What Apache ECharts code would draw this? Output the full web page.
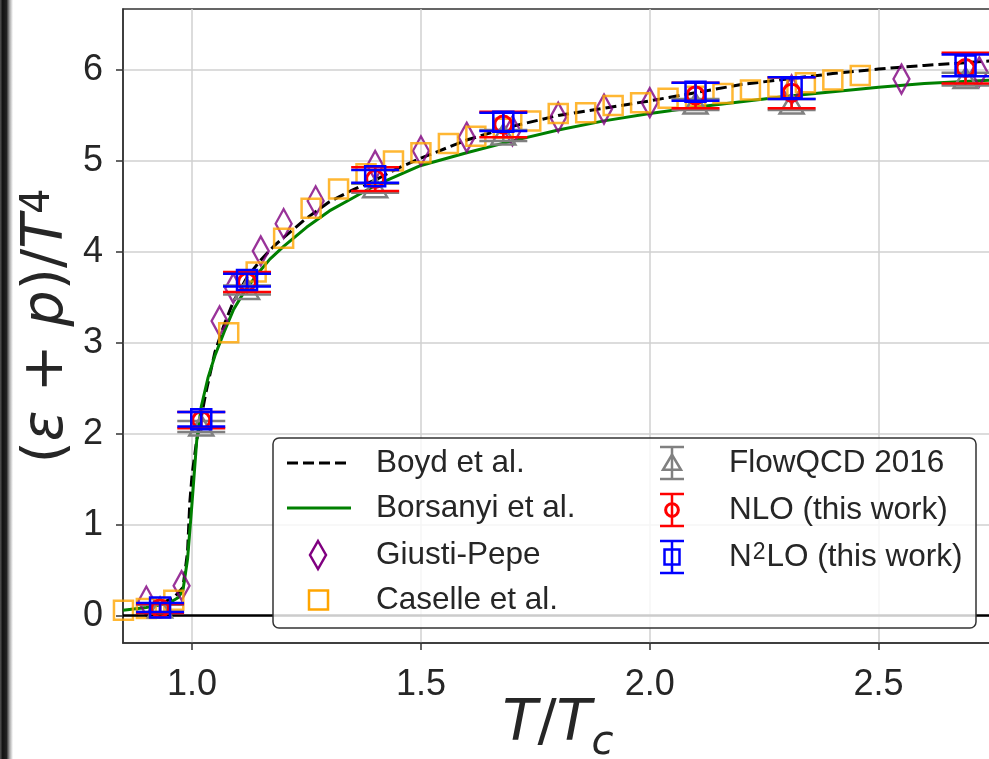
<!DOCTYPE html>
<html><head><meta charset="utf-8">
<script src="https://cdn.jsdelivr.net/npm/echarts@6/dist/echarts.min.js"></script>
<style>html,body{margin:0;padding:0;background:#fff}#c{width:989px;height:759px}</style>
</head><body><div id="c"></div>
<script>
// ---- data ----
const xTicks = [1.0, 1.5, 2.0, 2.5];
const yTicks = [0, 1, 2, 3, 4, 5, 6];

const boydT = [0.90,0.93,0.96,0.98,0.99,0.995,1.00,1.01,1.02,1.03,1.05,1.07,1.09,1.12,1.15,1.18,1.21,1.25,1.30,1.35,1.40,1.45,1.50,1.60,1.70,1.80,1.90,2.00,2.10,2.20,2.30,2.40,2.50,2.60,2.75];
const boydY = [0.10,0.13,0.20,0.31,0.70,1.25,1.55,1.93,2.18,2.45,2.90,3.20,3.45,3.72,3.91,4.07,4.20,4.37,4.55,4.68,4.79,4.92,5.03,5.23,5.38,5.50,5.58,5.66,5.75,5.84,5.90,5.96,6.01,6.05,6.10];

const borsT = [0.849,0.90,0.95,0.97,0.98,0.99,1.00,1.01,1.02,1.035,1.05,1.07,1.09,1.11,1.14,1.17,1.20,1.25,1.30,1.35,1.40,1.50,1.60,1.70,1.80,1.90,2.00,2.10,2.20,2.30,2.40,2.50,2.60,2.75];
const borsY = [0.06,0.09,0.14,0.20,0.28,0.62,1.25,1.92,2.30,2.62,2.86,3.12,3.36,3.53,3.74,3.92,4.06,4.27,4.45,4.59,4.73,4.95,5.09,5.22,5.34,5.44,5.52,5.59,5.65,5.71,5.76,5.81,5.85,5.89];

const giustiT = [0.90,0.977,1.06,1.09,1.15,1.20,1.27,1.40,1.50,1.60,1.70,1.80,1.90,2.00,2.31,2.55,2.72];
const giustiY = [0.16,0.33,3.24,3.60,4.01,4.31,4.56,4.95,5.11,5.26,5.33,5.48,5.57,5.64,5.78,5.90,5.98];

const caselleT = [0.85,0.90,0.96,1.08,1.14,1.20,1.26,1.32,1.38,1.44,1.50,1.56,1.62,1.68,1.74,1.80,1.86,1.92,1.98,2.04,2.10,2.16,2.22,2.28,2.34,2.40,2.46];
const caselleY = [0.06,0.08,0.17,3.11,3.78,4.15,4.48,4.69,4.86,5.00,5.09,5.19,5.27,5.36,5.44,5.52,5.53,5.61,5.64,5.69,5.71,5.74,5.78,5.81,5.86,5.89,5.94];

const latT = [0.93,1.02,1.12,1.40,1.68,2.10,2.31,2.69];
const flowY = [0.08,2.08,3.58,4.70,5.28,5.62,5.62,5.90];
const flowE = [0.04,0.06,0.05,0.05,0.06,0.06,0.06,0.07];
const nloY  = [0.08,2.15,3.67,4.80,5.40,5.72,5.75,6.02];
const nloE  = [0.05,0.09,0.11,0.13,0.14,0.14,0.17,0.17];
const n2loY = [0.09,2.16,3.69,4.83,5.43,5.76,5.80,6.05];
const n2loE = [0.05,0.08,0.07,0.07,0.10,0.10,0.12,0.12];

// ---- helpers ----
const zip2 = (a, b) => a.map((v, i) => [v, b[i]]);
const zip3 = (a, b, c) => a.map((v, i) => [v, b[i], c[i]]);
const FONT = '"Liberation Sans", Arial, sans-serif';
const MFONT = '"DejaVu Sans", sans-serif';
const TXT = '#262626';

function marker(shape, cx, cy, color, s) {
  const st = {stroke: color, lineWidth: 2.5, fill: 'none'};
  if (shape === 'tri') return {type: 'polygon', shape: {points: [[cx, cy - 11*s], [cx - 12*s, cy + 9*s], [cx + 12*s, cy + 9*s]]}, style: st};
  if (shape === 'circle') return {type: 'circle', shape: {cx: cx, cy: cy, r: 8.5*s}, style: {stroke: color, lineWidth: 3, fill: 'none'}};
  return {type: 'rect', shape: {x: cx - 10*s, y: cy - 10*s, width: 20*s, height: 20*s}, style: st};
}

function errRender(color, shape) {
  return function (params, api) {
    const x = api.value(0), y = api.value(1), e = api.value(2);
    const c = api.coord([x, y]);
    const t = api.coord([x, y + e]);
    const b = api.coord([x, y - e]);
    const hw = 24;
    const st = {stroke: color, lineWidth: 2.5};
    return {type: 'group', children: [
      {type: 'line', shape: {x1: c[0], y1: t[1], x2: c[0], y2: b[1]}, style: st},
      {type: 'line', shape: {x1: c[0] - hw, y1: t[1], x2: c[0] + hw, y2: t[1]}, style: st},
      {type: 'line', shape: {x1: c[0] - hw, y1: b[1], x2: c[0] + hw, y2: b[1]}, style: st},
      marker(shape, c[0], c[1], color, 1)
    ]};
  };
}

function errSeries(name, ys, es, color, shape) {
  return {
    name: name, type: 'custom', renderItem: errRender(color, shape),
    data: zip3(latT, ys, es), encode: {x: 0, y: 1}, clip: true, z: 5
  };
}

// ---- legend (drawn as graphic) ----
const LX = 273, LY = 438;
function legText(text, x, y, rich) {
  const st = {text: text, x: x, y: y, fill: TXT, fontSize: 31.5, fontFamily: FONT, align: 'left', verticalAlign: 'middle'};
  if (rich) st.rich = rich;
  return {type: 'text', style: st, z: 101};
}
function legErr(cx, cy, color, shape) {
  const st = {stroke: color, lineWidth: 2.5};
  return {type: 'group', z: 101, children: [
    {type: 'line', shape: {x1: cx, y1: cy - 16, x2: cx, y2: cy + 16}, style: st, z: 101},
    {type: 'line', shape: {x1: cx - 12, y1: cy - 16, x2: cx + 12, y2: cy - 16}, style: st, z: 101},
    {type: 'line', shape: {x1: cx - 12, y1: cy + 16, x2: cx + 12, y2: cy + 16}, style: st, z: 101},
    Object.assign(marker(shape, cx, cy, color, 0.75), {z: 101})
  ]};
}
const r1 = 463, r2 = 508, r3 = 555, r4 = 600;
const q1 = 463, q2 = 510, q3 = 557;
const legend = [
  {type: 'rect', shape: {x: LX, y: LY, width: 703, height: 190, r: 6}, style: {fill: 'rgba(255,255,255,0.8)', stroke: '#333', lineWidth: 1.5}, z: 100},
  {type: 'line', shape: {x1: 287, y1: r1, x2: 351, y2: r1}, style: {stroke: '#000', lineWidth: 3, lineDash: [11, 5]}, z: 101},
  legText('Boyd et al.', 376, r1),
  {type: 'line', shape: {x1: 287, y1: r2, x2: 351, y2: r2}, style: {stroke: '#008000', lineWidth: 3}, z: 101},
  legText('Borsanyi et al.', 376, r2),
  {type: 'polygon', shape: {points: [[318, r3 - 14], [326, r3], [318, r3 + 14], [310, r3]]}, style: {stroke: '#800080', lineWidth: 2.5, fill: 'none'}, z: 101},
  legText('Giusti-Pepe', 376, r3),
  {type: 'rect', shape: {x: 309, y: r4 - 9.5, width: 19, height: 19}, style: {stroke: '#FFA500', lineWidth: 2.5, fill: 'none'}, z: 101},
  legText('Caselle et al.', 376, r4),
  legErr(672, q1, '#808080', 'tri'),
  legText('FlowQCD 2016', 729, q1),
  legErr(672, q2, '#FF0000', 'circle'),
  legText('NLO (this work)', 729, q2),
  legErr(672, q3, '#0000FF', 'rect'),
  legText('N{sup|2}LO (this work)', 729, q3, {sup: {fontSize: 23, fontFamily: FONT, fill: TXT, verticalAlign: 'top', padding: [0, 1, 6, 1]}}),
  // dark strip at the left border of the picture
  {type: 'rect', shape: {x: 0, y: 0, width: 13, height: 759},
   style: {fill: new echarts.graphic.LinearGradient(0, 0, 1, 0, [
     {offset: 0, color: '#555'}, {offset: 0.2, color: '#111'}, {offset: 0.5, color: '#222'},
     {offset: 0.75, color: '#aaa'}, {offset: 1, color: '#fff'}])}, z: 200}
];

const chart = echarts.init(document.getElementById('c'), null, {renderer: 'canvas'});
chart.setOption({
  animation: false,
  backgroundColor: '#fff',
  grid: {left: 123, right: -4, top: 9, bottom: 116, outerBoundsMode: 'none', containLabel: false,
         show: true, borderColor: '#333', borderWidth: 1.5, backgroundColor: 'transparent'},
  xAxis: {
    type: 'value', min: 0.849, max: 2.75,
    name: '{it|T}/{it|T}{sub|c}', nameLocation: 'middle', nameGap: 43, nameMoveOverlap: false,
    nameTextStyle: {fontSize: 57, fontFamily: MFONT, color: TXT,
      rich: {it: {fontSize: 57, fontStyle: 'italic', fontFamily: MFONT, color: TXT},
             sub: {fontSize: 40, fontStyle: 'italic', fontFamily: MFONT, color: TXT, padding: [38, 0, 0, 0]}}},
    axisLine: {show: true, onZero: false, lineStyle: {color: '#333', width: 1.5}},
    axisTick: {show: true, length: 7, inside: false, customValues: xTicks, lineStyle: {color: '#333', width: 1.5}},
    axisLabel: {customValues: xTicks, fontSize: 36, fontFamily: FONT, color: TXT, margin: 24,
      formatter: v => v.toFixed(1)},
    splitLine: {show: true, lineStyle: {color: '#d0d0d0', width: 1.5}}
  },
  yAxis: {
    type: 'value', min: -0.3, max: 6.67,
    name: '({it|ε} + {it|p})/{it|T}{sup|4}', nameLocation: 'middle', nameGap: 47, nameRotate: 90, nameMoveOverlap: false,
    nameTextStyle: {fontSize: 57, fontFamily: MFONT, color: TXT,
      rich: {it: {fontSize: 57, fontStyle: 'italic', fontFamily: MFONT, color: TXT},
             sup: {fontSize: 40, fontFamily: MFONT, color: TXT, verticalAlign: 'top'}}},
    axisLine: {show: true, onZero: false, lineStyle: {color: '#333', width: 1.5}},
    axisTick: {show: true, length: 7, inside: false, customValues: yTicks, lineStyle: {color: '#333', width: 1.5}},
    axisLabel: {customValues: yTicks, fontSize: 36, fontFamily: FONT, color: TXT, margin: 20},
    splitLine: {show: true, lineStyle: {color: '#d0d0d0', width: 1.5}}
  },
  graphic: legend,
  series: [
    {name: 'Boyd et al.', type: 'line', data: zip2(boydT, boydY), symbol: 'none', z: 3,
     lineStyle: {color: '#000', width: 3, type: [11, 5]}},
    {name: 'Borsanyi et al.', type: 'line', data: zip2(borsT, borsY), symbol: 'none', z: 3,
     lineStyle: {color: '#008000', width: 3},
     markLine: {silent: true, symbol: 'none', label: {show: false}, data: [{yAxis: 0}],
       lineStyle: {color: '#000', width: 2.5, type: 'solid'}}},
    {name: 'Giusti-Pepe', type: 'scatter', data: zip2(giustiT, giustiY), symbol: 'diamond', symbolSize: [16, 29], z: 4,
     itemStyle: {color: 'rgba(0,0,0,0)', borderColor: '#800080', borderWidth: 2.5}},
    {name: 'Caselle et al.', type: 'scatter', data: zip2(caselleT, caselleY), symbol: 'rect', symbolSize: 19, z: 4,
     itemStyle: {color: 'rgba(0,0,0,0)', borderColor: '#FFA500', borderWidth: 2.5}},
    errSeries('FlowQCD 2016', flowY, flowE, '#808080', 'tri'),
    errSeries('NLO (this work)', nloY, nloE, '#FF0000', 'circle'),
    errSeries('N2LO (this work)', n2loY, n2loE, '#0000FF', 'rect')
  ]
});
</script>
</body></html>
